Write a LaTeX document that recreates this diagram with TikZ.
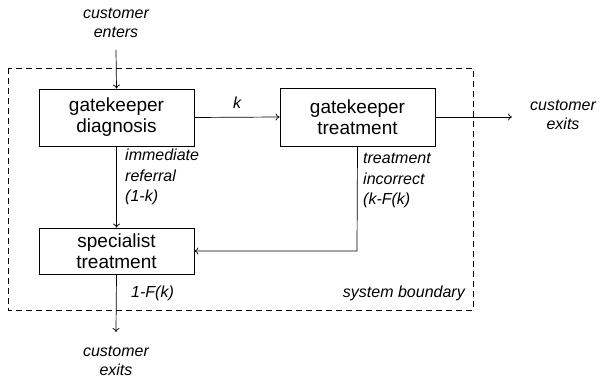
\documentclass[tikz,border=0pt]{standalone}
\usepackage{fontspec}
\setmainfont{Liberation Sans}
\usetikzlibrary{arrows.meta}
\begin{document}
\begin{tikzpicture}[x=1pt,y=-1pt,
  proc/.style={draw, line width=0.8pt, minimum width=155pt, align=center,
    inner sep=0pt, font=\fontsize{19}{21}\selectfont},
  lbl/.style={align=left, inner sep=0pt, font=\itshape\fontsize{16}{20.5}\selectfont},
  clbl/.style={align=center, inner sep=0pt, font=\itshape\fontsize{16}{19.5}\selectfont},
  flow/.style={line width=0.7pt, -{To[length=4pt,width=7pt]}}]
\useasboundingbox (0,0) rectangle (600,379);
% system boundary
\draw[line width=0.7pt, dash pattern=on 6pt off 4pt] (8,68) rectangle (473,310);
\node[lbl, anchor=east] (sb) at (465,293) {system boundary};
% process boxes
\node[proc, minimum height=57pt] (gd) at (116.5,117.5) {gatekeeper\\diagnosis};
\node[proc, minimum height=58pt] (gt) at (357.5,117) {gatekeeper\\treatment};
\node[proc, minimum height=46pt] (st) at (116.5,251) {specialist\\treatment};
% entry and exits
\node[clbl] (enter) at (116,23) {customer\\enters};
\coordinate (in) at (116,50);
\node[clbl] (exitR) at (563,115) {customer\\exits};
\coordinate (outR) at (512,117);
\node[clbl] (exitB) at (116,361) {customer\\exits};
\coordinate (outB) at (116,332);
\coordinate (turn) at (357,251);
% connectors
\draw[flow] (in) -- (gd.north);
\draw[flow] (gd.east) -- (gt.west) node[midway, above=5pt, font=\itshape\fontsize{16}{19}\selectfont] (k) {k};
\draw[flow] (gt.east) -- (outR);
\draw[flow] (gd.south) -- (st.north);
\draw[flow] (gt.south) -- (turn) -- (st.east);
\draw[flow] (st.south) -- (outB);
% flow labels
\node[lbl, anchor=north west] (ref) at (125,149) {immediate\\referral\\(1-k)};
\node[lbl, anchor=north west] (inc) at (363,153) {treatment\\incorrect\\(k-F(k)};
\node[lbl, anchor=west] (fk) at (131,293) {1-F(k)};
\end{tikzpicture}
\end{document}
